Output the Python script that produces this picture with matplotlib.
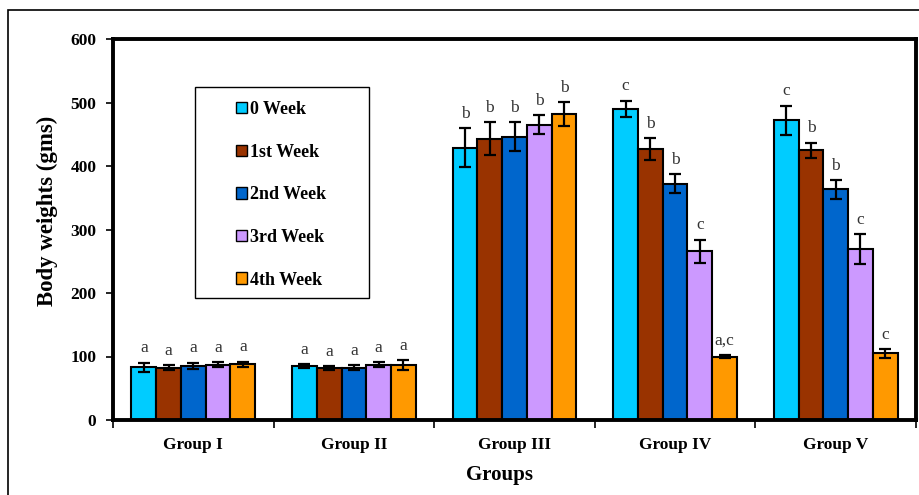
import matplotlib
matplotlib.use("Agg")
import matplotlib.pyplot as plt
import numpy as np
from matplotlib.patches import Rectangle

groups = ["Group I", "Group II", "Group III", "Group IV", "Group V"]
weeks = ["0 Week", "1st Week", "2nd Week", "3rd Week", "4th Week"]
colors = ["#00CCFF", "#993300", "#0066CC", "#CC99FF", "#FF9900"]

# rows = weeks, columns = groups
means = [
    [83, 85, 429, 490, 472],
    [82, 82, 443, 427, 425],
    [85, 82, 446, 372, 363],
    [87, 87, 465, 266, 269],
    [88, 86, 482, 100, 105],
]
errors = [
    [7, 3, 31, 13, 23],
    [4, 3, 26, 17, 12],
    [5, 4, 23, 15, 15],
    [4, 4, 15, 18, 24],
    [4, 8, 19, 2, 7],
]
letters = [
    ["a", "a", "b", "c", "c"],
    ["a", "a", "b", "b", "b"],
    ["a", "a", "b", "b", "b"],
    ["a", "a", "b", "c", "c"],
    ["a", "a", "b", "a,c", "c"],
]

plt.rcParams["font.family"] = ["Liberation Serif", "DejaVu Serif"]

W, H = 919, 495
fig = plt.figure(figsize=(W / 100, H / 100), dpi=100)
ax = fig.add_axes([113 / W, 1 - 420 / H, 803 / W, 381 / H])

# outer frame of the figure
fig.patches.append(Rectangle((8 / W, -0.05), 1.0, 1 - 10 / H + 0.05,
                             transform=fig.transFigure, fill=False,
                             edgecolor="black", linewidth=1.2))

x = np.arange(len(groups))
width = 0.154
for i, wk in enumerate(weeks):
    pos = x + (i - 2) * width
    ax.bar(pos, means[i], width, color=colors[i], edgecolor="black",
           linewidth=1.5, label=wk, zorder=2)
    ax.errorbar(pos, means[i], yerr=errors[i], fmt="none", ecolor="black",
                elinewidth=1.6, capsize=4, capthick=1.6, zorder=3)
    for j in range(len(groups)):
        ax.text(pos[j], means[i][j] + errors[i][j] + 10, letters[i][j],
                ha="center", va="bottom", fontsize=12.5, color="#333333")

ax.set_xlim(-0.5, len(groups) - 0.5)
ax.set_ylim(0, 600)
ax.set_yticks(range(0, 601, 100))
ax.set_yticklabels([str(v) for v in range(0, 601, 100)], fontweight="bold", fontsize=12.5)

ax.set_xticks(np.arange(-0.5, len(groups), 1.0))
ax.set_xticklabels([])
ax.set_xticks(x, minor=True)
ax.set_xticklabels(groups, minor=True, fontweight="bold", fontsize=12.5)
ax.tick_params(axis="x", which="major", direction="out", length=6, width=1.2)
ax.tick_params(axis="x", which="minor", length=0, pad=12)
ax.tick_params(axis="y", direction="out", length=5, width=1.2, pad=7)

for s in ax.spines.values():
    s.set_linewidth(2.8)

ax.set_ylabel("Body weights (gms)", fontweight="bold", fontsize=16.5)
ax.yaxis.set_label_coords((58 - 113) / 803, (420 - 211) / 381)
ax.set_xlabel("Groups", fontweight="bold", fontsize=15)
ax.xaxis.set_label_coords((499 - 113) / 803, (420 - 465) / 381)

# legend box drawn separately so its size matches the original
fig.patches.append(Rectangle((195 / W, 1 - 298 / H), 174 / W, 211 / H,
                             transform=fig.transFigure, facecolor="white",
                             edgecolor="black", linewidth=1.0, zorder=4))
leg = fig.legend(loc="upper left", bbox_to_anchor=(236 / W, 1 - 101 / H),
                 frameon=False, prop={"weight": "bold", "size": 13},
                 handlelength=0.6, handleheight=0.6, handletextpad=0.2,
                 labelspacing=1.42, borderpad=0, borderaxespad=0)
leg.set_zorder(5)
for h in leg.legend_handles:
    h.set_linewidth(1.0)

fig.savefig("out.png", dpi=100)
